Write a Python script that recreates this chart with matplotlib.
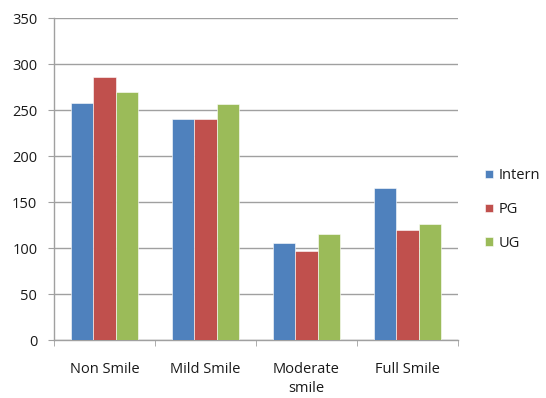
import numpy as np
import matplotlib.pyplot as plt
from matplotlib.ticker import FixedLocator

# smile categories and counts per group
categories = ['Non Smile', 'Mild Smile', 'Moderate\nsmile', 'Full Smile']
series = ['Intern', 'PG', 'UG']
intern = [258, 240, 105, 165]
pg = [286, 240, 97, 120]
ug = [270, 256, 115, 126]

colors = ['#4F81BD', '#C0504D', '#9BBB59']
grid_col = '#A0A0A0'
text_col = '#1A1A1A'

plt.rcParams['font.family'] = ['Open Sans', 'DejaVu Sans']

fig = plt.figure(figsize=(5.46, 3.98), dpi=100)
ax = fig.add_axes([54 / 546, 58 / 398, 404 / 546, 322 / 398])

x = np.arange(len(categories))
w = 0.222
for k, (name, vals) in enumerate(zip(series, [intern, pg, ug])):
    ax.bar(x + (k - 1) * w, vals, width=w, color=colors[k], label=name,
           edgecolor='white', linewidth=0.4, zorder=3)

ax.set_xlim(-0.5, len(categories) - 0.5)
ax.set_ylim(0, 350)
ax.set_yticks(np.arange(0, 351, 50))
ax.yaxis.grid(True, color=grid_col, linewidth=1.0, zorder=0)

ax.set_xticks(x)
ax.set_xticklabels(categories, color=text_col, fontsize=10.5, linespacing=1.35)
ax.xaxis.set_minor_locator(FixedLocator(np.arange(-0.5, len(categories), 1.0)))
ax.tick_params(axis='x', which='major', length=0, pad=16)
ax.tick_params(axis='x', which='minor', length=4, color=grid_col, direction='out')
ax.tick_params(axis='y', length=4, color=grid_col, pad=8, labelsize=10.5,
               labelcolor=text_col)

for side in ['top', 'right']:
    ax.spines[side].set_visible(False)
for side in ['left', 'bottom']:
    ax.spines[side].set_color(grid_col)
    ax.spines[side].set_linewidth(1.0)

ax.legend(loc='center left', bbox_to_anchor=(1.035, 0.405), frameon=False,
          fontsize=10.5, handlelength=0.55, handleheight=0.55, handletextpad=0.35,
          labelspacing=1.3, labelcolor=text_col)

fig.savefig('out.png', dpi=100)
